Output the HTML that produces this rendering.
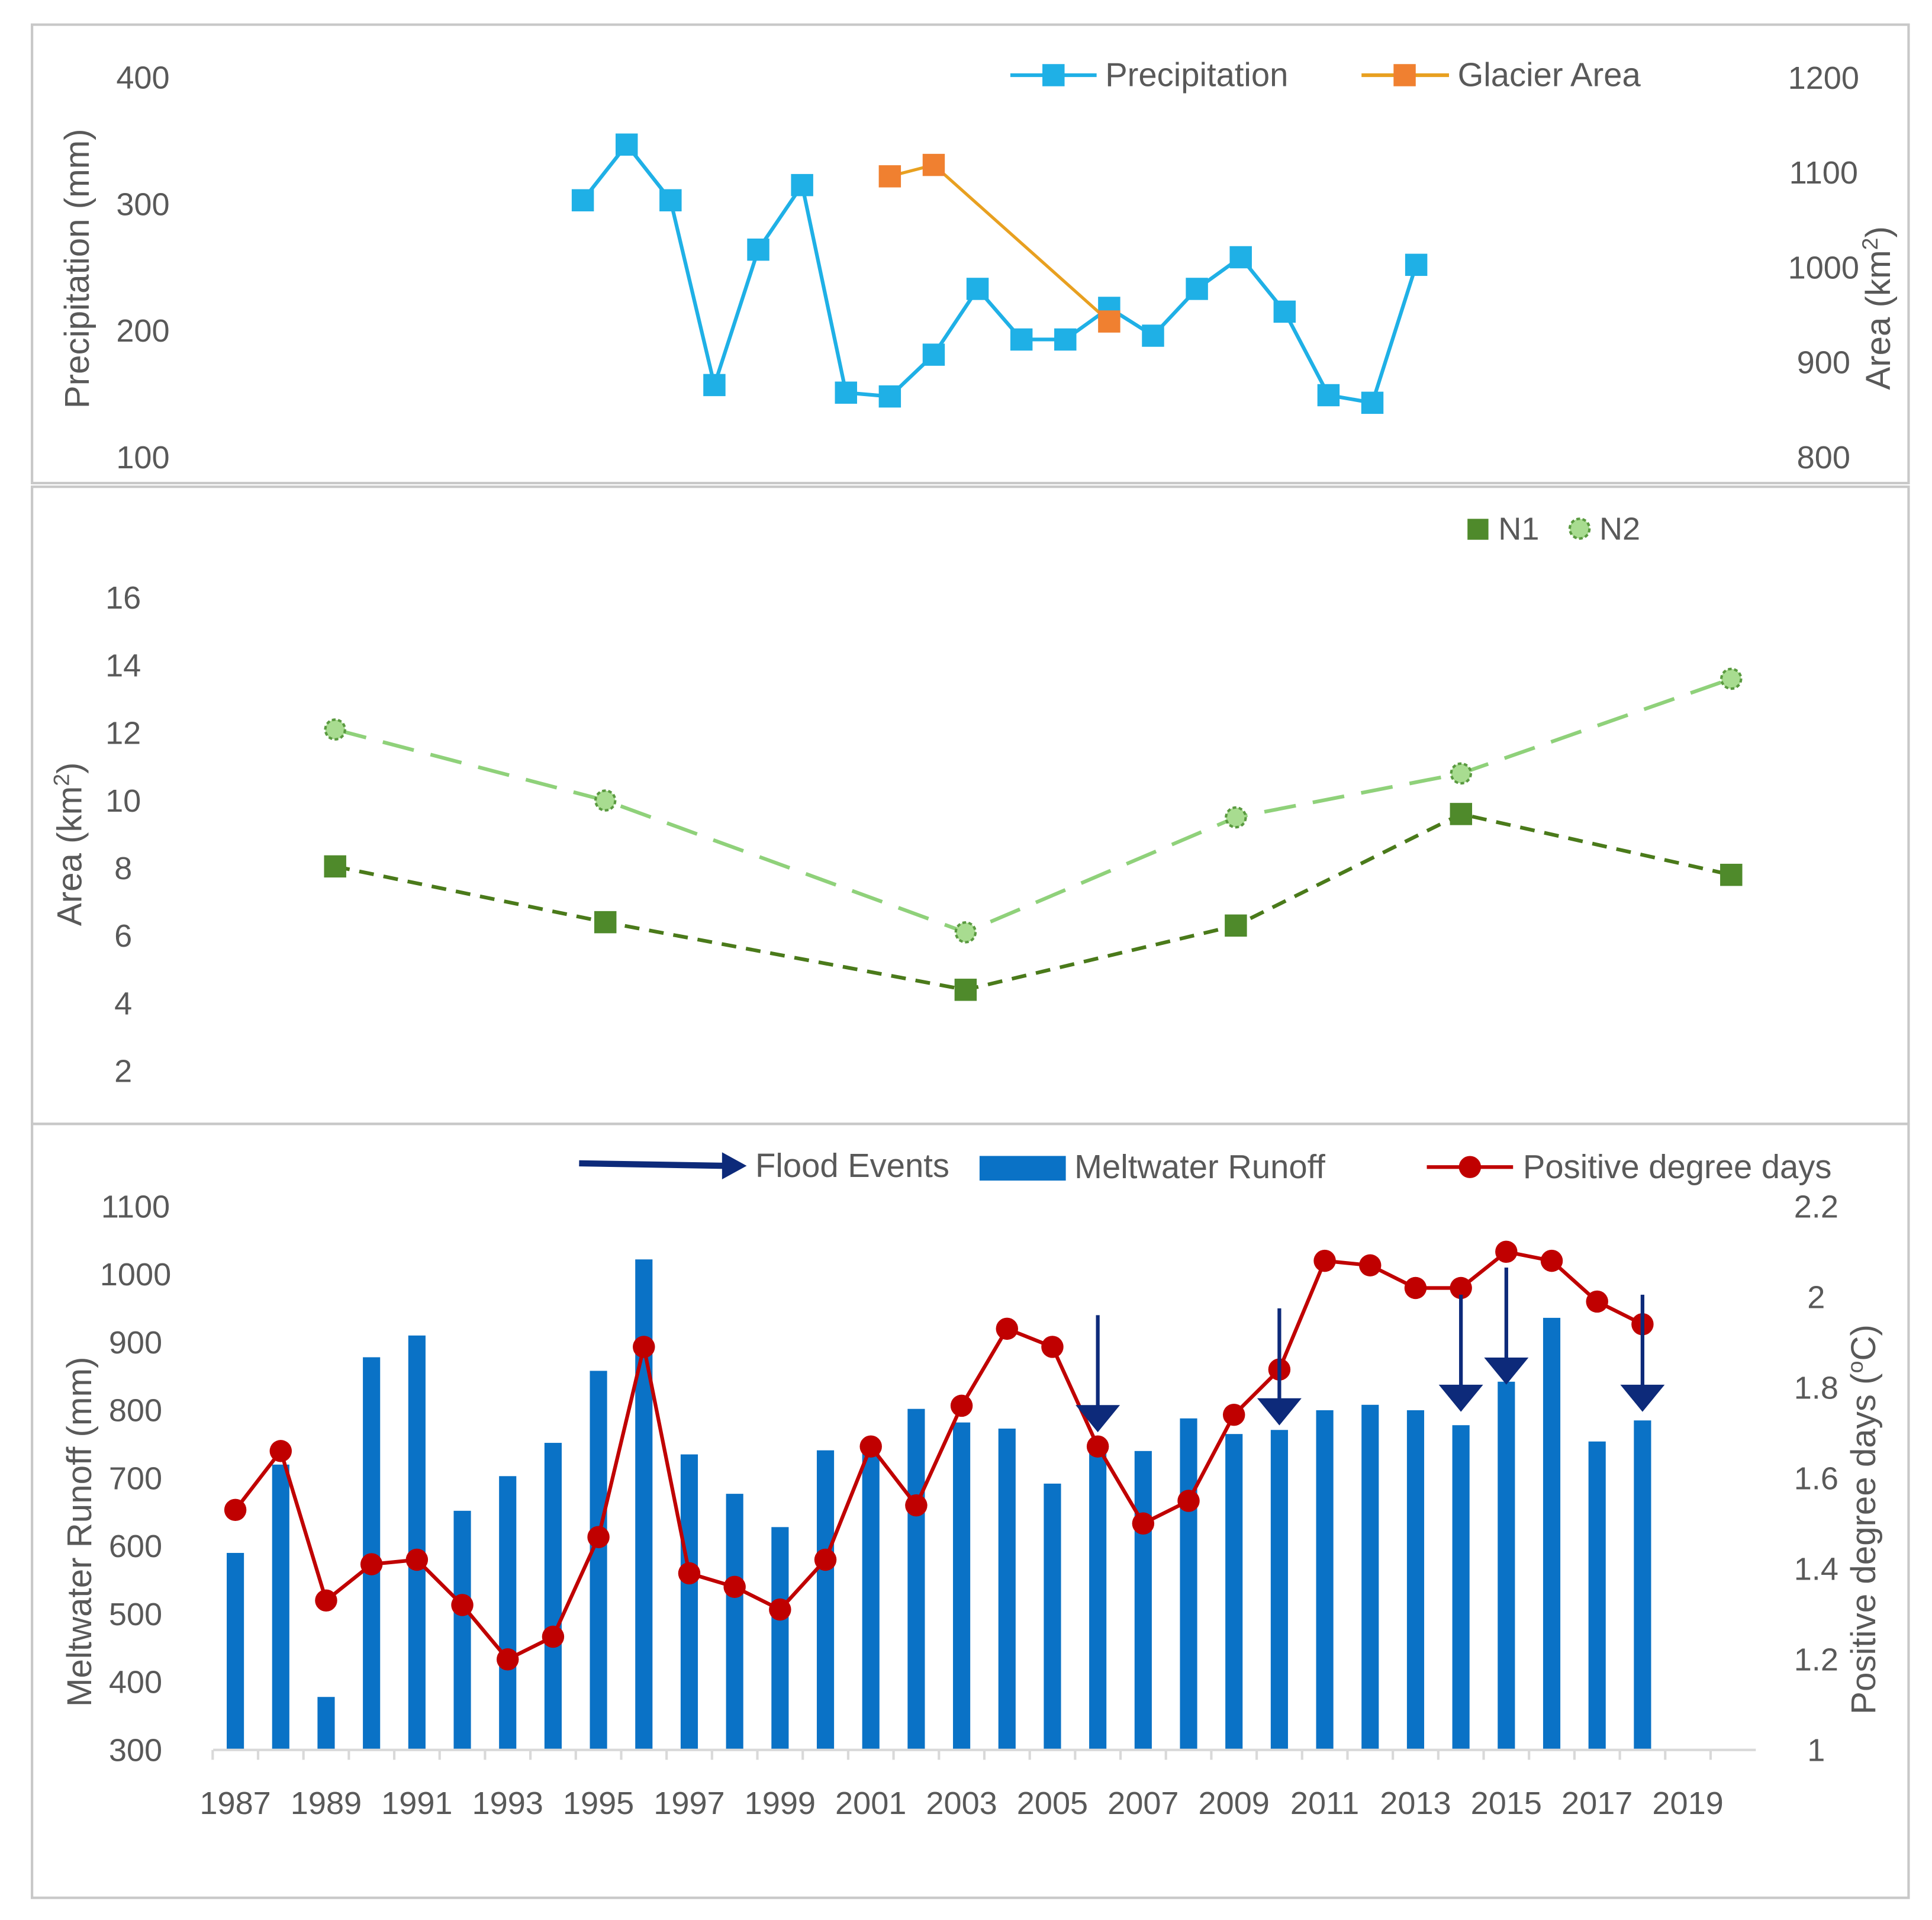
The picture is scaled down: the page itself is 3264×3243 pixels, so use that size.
<!DOCTYPE html>
<html><head><meta charset="utf-8"><style>
html,body{margin:0;padding:0;background:#fff;}
svg{display:block;font-family:"Liberation Sans Narrow","Liberation Sans",sans-serif;}
</style></head><body>
<svg id="s" width="3264" height="3243" viewBox="0 0 1568 1558" preserveAspectRatio="none" xmlns="http://www.w3.org/2000/svg">
<rect x="0" y="0" width="1568" height="1558" fill="#fff"/>
<rect x="26" y="20" width="1523" height="372" fill="none" stroke="#c8c8c8" stroke-width="2"/>
<rect x="26" y="395" width="1523" height="517" fill="none" stroke="#c8c8c8" stroke-width="2"/>
<rect x="26" y="912" width="1523" height="628" fill="none" stroke="#c8c8c8" stroke-width="2"/>
<g id="g1"></g>
<g id="g2"></g>
<g id="g3"></g>
</svg>
<script>
// ---- Panel 1 data
const precipYears=[1995,1996,1997,1998,1999,2000,2001,2002,2003,2004,2005,2006,2007,2008,2009,2010,2011,2012,2013,2014];
const precipValues=[303,347,303,157,264,315,151,148,181,233,193,193,218,196,233,258,215,149,143,252];
const glacierYears=[2002,2003,2007];
const glacierValues=[1096,1108,943];
const precipTicks=[100,200,300,400];
const areaTicks=[800,900,1000,1100,1200];
// ---- Panel 2 data
const nYears=[1990,1996,2004,2010,2015,2021];
const n1Values=[8.05,6.4,4.4,6.3,9.6,7.8];
const n2Values=[12.1,10.0,6.1,9.5,10.8,13.6];
const nTicks=[2,4,6,8,10,12,14,16];
// ---- Panel 3 data
const runYears=[1987,1988,1989,1990,1991,1992,1993,1994,1995,1996,1997,1998,1999,2000,2001,2002,2003,2004,2005,2006,2007,2008,2009,2010,2011,2012,2013,2014,2015,2016,2017,2018];
const runoffValues=[590,720,378,878,910,652,703,752,858,1022,735,677,628,741,742,802,782,773,692,740,740,788,765,771,800,808,800,778,842,936,754,785];
const pddValues=[1.53,1.66,1.33,1.41,1.42,1.32,1.20,1.25,1.47,1.89,1.39,1.36,1.31,1.42,1.67,1.54,1.76,1.93,1.89,1.67,1.50,1.55,1.74,1.84,2.08,2.07,2.02,2.02,2.10,2.08,1.99,1.94];
const floodYears=[2006,2010,2014,2015,2018];
const floodTops=[940,950,970,1010,970];
const runTicks=[300,400,500,600,700,800,900,1000,1100];
const pddTicks=[1,1.2,1.4,1.6,1.8,2,2.2];
const yearLabels=[1987,1989,1991,1993,1995,1997,1999,2001,2003,2005,2007,2009,2011,2013,2015,2017,2019];

const NS="http://www.w3.org/2000/svg";
function mk(p,tag,a,txt){const e=document.createElementNS(NS,tag);for(const k in a)e.setAttribute(k,a[k]);if(txt!==undefined)e.textContent=txt;p.appendChild(e);return e;}
const g1=document.getElementById('g1'),g2=document.getElementById('g2'),g3=document.getElementById('g3');
const TXT='#595959';

// ===== Panel 1
const x1=y=>473+(y-1995)*35.6;
const yP=v=>371-(v-100)*1.027;
const yA=v=>371-(v-800)*0.77;
precipTicks.forEach(t=>{const e=mk(g1,'text',{x:116,y:yP(t)+9,'font-size':26,fill:TXT,'text-anchor':'middle'},t);

});
areaTicks.forEach(t=>{const e=mk(g1,'text',{x:1480,y:yA(t)+9,'font-size':26,fill:TXT,'text-anchor':'middle'},t);

});
let e;
e=mk(g1,'text',{x:0,y:0,'font-size':28,fill:TXT,'text-anchor':'middle',transform:'translate(72,218) rotate(-90)','font-family':'Liberation Sans,sans-serif'},'Precipitation (mm)');

e=mk(g1,'text',{x:0,y:0,'font-size':28,fill:TXT,'text-anchor':'middle',transform:'translate(1534,250) rotate(-90)','font-family':'Liberation Sans,sans-serif'});
e.innerHTML='Area (km<tspan baseline-shift="super" font-size="18">2</tspan>)';

e=mk(g1,'polyline',{points:precipYears.map((y,i)=>x1(y)+','+yP(precipValues[i])).join(' '),fill:'none',stroke:'#1fb0e6','stroke-width':3});

precipYears.forEach((y,i)=>{const r=mk(g1,'rect',{x:x1(y)-9,y:yP(precipValues[i])-9,width:18,height:18,fill:'#1fb0e6'});

});
e=mk(g1,'polyline',{points:glacierYears.map((y,i)=>x1(y)+','+yA(glacierValues[i])).join(' '),fill:'none',stroke:'#e8a020','stroke-width':2.5});

glacierYears.forEach((y,i)=>{const r=mk(g1,'rect',{x:x1(y)-9,y:yA(glacierValues[i])-9,width:18,height:18,fill:'#f08030'});

});
// legend
e=mk(g1,'line',{x1:820,y1:61,x2:890,y2:61,stroke:'#1fb0e6','stroke-width':3});
e=mk(g1,'rect',{x:846,y:52,width:18,height:18,fill:'#1fb0e6'});
e=mk(g1,'text',{x:897,y:70,'font-size':27,fill:TXT},'Precipitation');
e=mk(g1,'line',{x1:1105,y1:61,x2:1176,y2:61,stroke:'#e8a020','stroke-width':3});
e=mk(g1,'rect',{x:1131,y:52,width:18,height:18,fill:'#f08030'});
e=mk(g1,'text',{x:1183,y:70,'font-size':27,fill:TXT},'Glacier Area');

// ===== Panel 2
const x2=y=>272+(y-1990)*36.55;
const yN=v=>869-(v-2)*27.43;
nTicks.forEach(t=>{const e=mk(g2,'text',{x:100,y:yN(t)+9,'font-size':26,fill:TXT,'text-anchor':'middle'},t);

});
e=mk(g2,'text',{x:0,y:0,'font-size':28,fill:TXT,'text-anchor':'middle',transform:'translate(66,685) rotate(-90)','font-family':'Liberation Sans,sans-serif'});
e.innerHTML='Area  (km<tspan baseline-shift="super" font-size="18">2</tspan>)';

e=mk(g2,'polyline',{points:nYears.map((y,i)=>x2(y)+','+yN(n2Values[i])).join(' '),fill:'none',stroke:'#8fd17a','stroke-width':3,'stroke-dasharray':'26 14'});

e=mk(g2,'polyline',{points:nYears.map((y,i)=>x2(y)+','+yN(n1Values[i])).join(' '),fill:'none',stroke:'#4a7a1a','stroke-width':3,'stroke-dasharray':'12 8'});

nYears.forEach((y,i)=>{const c=mk(g2,'circle',{cx:x2(y),cy:yN(n2Values[i]),r:8,fill:'#a8dc90',stroke:'#5a9a40','stroke-width':2,'stroke-dasharray':'3 2'});


const r=mk(g2,'rect',{x:x2(y)-9,y:yN(n1Values[i])-9,width:18,height:18,fill:'#4f8a2b'});

});
e=mk(g2,'rect',{x:1191,y:421,width:17,height:17,fill:'#4f8a2b'});
e=mk(g2,'text',{x:1216,y:438,'font-size':26,fill:TXT},'N1');
e=mk(g2,'circle',{cx:1282,cy:429,r:8,fill:'#a8dc90',stroke:'#5a9a40','stroke-width':2,'stroke-dasharray':'3 2'});
e=mk(g2,'text',{x:1298,y:438,'font-size':26,fill:TXT},'N2');

// ===== Panel 3
const x3=y=>191+(y-1987)*36.84;
const yR=v=>1420-(v-300)*0.5513;
const yD=v=>1420-(v-1)*367.5;
runTicks.forEach(t=>{const e=mk(g3,'text',{x:110,y:yR(t)+9,'font-size':26,fill:TXT,'text-anchor':'middle'},t);

});
pddTicks.forEach(t=>{const e=mk(g3,'text',{x:1474,y:yD(t)+9,'font-size':26,fill:TXT,'text-anchor':'middle'},t);

});
e=mk(g3,'text',{x:0,y:0,'font-size':28,fill:TXT,'text-anchor':'middle',transform:'translate(74,1243) rotate(-90)','font-family':'Liberation Sans,sans-serif'},'Meltwater Runoff (mm)');

e=mk(g3,'text',{x:0,y:0,'font-size':28,fill:TXT,'text-anchor':'middle',transform:'translate(1522,1233) rotate(-90)','font-family':'Liberation Sans,sans-serif'});
e.innerHTML='Positive degree days (<tspan baseline-shift="super" font-size="18">o</tspan>C)';

runYears.forEach((y,i)=>{const r=mk(g3,'rect',{x:x3(y)-7,y:yR(runoffValues[i]),width:14,height:1420-yR(runoffValues[i]),fill:'#0a72c6'});

});
e=mk(g3,'line',{x1:173,y1:1420,x2:1425,y2:1420,stroke:'#d9d9d9','stroke-width':2});
for(let y=1987;y<=2020;y++){const t=mk(g3,'line',{x1:x3(y)-18.4,y1:1420,x2:x3(y)-18.4,y2:1428,stroke:'#d9d9d9','stroke-width':2});

}
yearLabels.forEach(y=>{const t=mk(g3,'text',{x:x3(y),y:1472,'font-size':26,fill:TXT,'text-anchor':'middle'},y);

});
e=mk(g3,'polyline',{points:runYears.map((y,i)=>x3(y)+','+yD(pddValues[i])).join(' '),fill:'none',stroke:'#c00000','stroke-width':3});

runYears.forEach((y,i)=>{const c=mk(g3,'circle',{cx:x3(y),cy:yD(pddValues[i]),r:9,fill:'#c00000'});

});
floodYears.forEach((y,i)=>{const x=x3(y),top=yR(floodTops[i]),tip=top+95;
const l=mk(g3,'line',{x1:x,y1:top,x2:x,y2:tip-20,stroke:'#0d2a7a','stroke-width':3});


const p=mk(g3,'polygon',{points:`${x-18},${tip-22} ${x+18},${tip-22} ${x},${tip}`,fill:'#0d2a7a'});

});
// legend
e=mk(g3,'line',{x1:470,y1:944,x2:588,y2:946,stroke:'#0d2a7a','stroke-width':5});
e=mk(g3,'polygon',{points:'586,935 606,946 586,957',fill:'#0d2a7a'});
e=mk(g3,'text',{x:613,y:955,'font-size':27,fill:TXT},'Flood Events');
e=mk(g3,'rect',{x:795,y:938,width:70,height:20,fill:'#0a72c6'});
e=mk(g3,'text',{x:872,y:956,'font-size':27,fill:TXT},'Meltwater Runoff');
e=mk(g3,'line',{x1:1158,y1:947,x2:1228,y2:947,stroke:'#c00000','stroke-width':3});
e=mk(g3,'circle',{cx:1193,cy:947,r:9,fill:'#c00000'});
e=mk(g3,'text',{x:1236,y:956,'font-size':27,fill:TXT},'Positive degree days');
</script>
</body></html>
